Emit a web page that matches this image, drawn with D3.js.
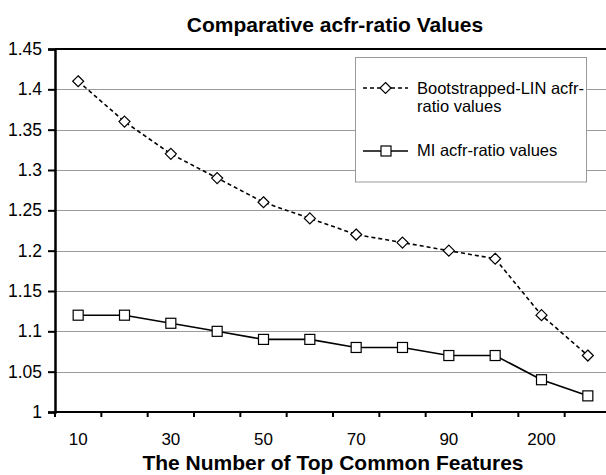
<!DOCTYPE html>
<html>
<head>
<meta charset="utf-8">
<script src="https://cdn.jsdelivr.net/npm/d3@7"></script>
<style>
  body { margin: 0; background: #fff; }
  svg { display: block; font-family: "Liberation Sans", Arial, sans-serif; }
</style>
</head>
<body>
<svg id="chart" width="606" height="475"></svg>
<script>
const categories = ["10", "20", "30", "40", "50", "60", "70", "80", "90", "100", "200", "300"];
const bootValues = [1.41, 1.36, 1.32, 1.29, 1.26, 1.24, 1.22, 1.21, 1.20, 1.19, 1.12, 1.07];
const miValues = [1.12, 1.12, 1.11, 1.10, 1.09, 1.09, 1.08, 1.08, 1.07, 1.07, 1.04, 1.02];
const yTicks = [1, 1.05, 1.1, 1.15, 1.2, 1.25, 1.3, 1.35, 1.4, 1.45];
const xLabels = ["10", "30", "50", "70", "90", "200"];

const svg = d3.select("#chart");
const M = { left: 55, right: 611, top: 49, bottom: 412 };

const x = d3.scaleBand().domain(categories).range([M.left, M.right]);
const xc = c => x(c) + x.bandwidth() / 2;
const y = d3.scaleLinear().domain([1, 1.45]).range([M.bottom, M.top]);

// gridlines
svg.append("g")
  .selectAll("line")
  .data(yTicks.slice(1, -1))
  .join("line")
  .attr("x1", M.left).attr("x2", 606)
  .attr("y1", d => Math.round(y(d)) + 0.5).attr("y2", d => Math.round(y(d)) + 0.5)
  .attr("stroke", "#9a9a9a").attr("stroke-width", 1);

// top border
svg.append("line")
  .attr("x1", M.left).attr("x2", 606).attr("y1", M.top).attr("y2", M.top)
  .attr("stroke", "#000").attr("stroke-width", 2);

// y axis
const yAxis = svg.append("g")
  .attr("transform", `translate(${M.left},0)`)
  .call(d3.axisLeft(y).tickValues(yTicks).tickFormat(d3.format("")).tickSize(7).tickPadding(6));
yAxis.select(".domain").attr("stroke-width", 2.5);
yAxis.selectAll(".tick line").attr("stroke-width", 2);
yAxis.selectAll("text").attr("font-size", 17.5).attr("fill", "#000");

// x axis
const xAxis = svg.append("g")
  .attr("transform", `translate(0,${M.bottom})`)
  .call(d3.axisBottom(x).tickSize(0).tickPadding(0).tickFormat(d => xLabels.includes(d) ? d : ""));
xAxis.select(".domain").attr("stroke-width", 2).attr("d", `M${M.left},0H606`);
xAxis.selectAll("text").attr("font-size", 17).attr("fill", "#000").attr("dy", null).attr("y", 33);
svg.append("g")
  .selectAll("line")
  .data(categories)
  .join("line")
  .attr("x1", d => x(d)).attr("x2", d => x(d))
  .attr("y1", M.bottom).attr("y2", M.bottom + 5)
  .attr("stroke", "#000").attr("stroke-width", 2);

// lines
const line = d3.line().x((d, i) => xc(categories[i])).y(d => y(d));
svg.append("path").datum(bootValues)
  .attr("d", line).attr("fill", "none").attr("stroke", "#000")
  .attr("stroke-width", 1.6).attr("stroke-dasharray", "4,3");
svg.append("path").datum(miValues)
  .attr("d", line).attr("fill", "none").attr("stroke", "#000").attr("stroke-width", 1.6);

const diamond = (cx, cy) => `M${cx},${cy - 5.5}L${cx + 5.5},${cy}L${cx},${cy + 5.5}L${cx - 5.5},${cy}Z`;
svg.append("g").selectAll("path")
  .data(bootValues)
  .join("path")
  .attr("d", (d, i) => diamond(xc(categories[i]), y(d)))
  .attr("fill", "#fff").attr("stroke", "#000").attr("stroke-width", 1.2);
svg.append("g").selectAll("rect")
  .data(miValues)
  .join("rect")
  .attr("x", (d, i) => xc(categories[i]) - 5).attr("y", d => y(d) - 5)
  .attr("width", 10).attr("height", 10)
  .attr("fill", "#fff").attr("stroke", "#000").attr("stroke-width", 1.2);

// legend
const lg = svg.append("g");
lg.append("rect").attr("x", 355.5).attr("y", 57.5).attr("width", 231).attr("height", 124.5)
  .attr("fill", "#fff").attr("stroke", "#999").attr("stroke-width", 1);
lg.append("line").attr("x1", 363).attr("x2", 408).attr("y1", 88).attr("y2", 88)
  .attr("stroke", "#000").attr("stroke-width", 1.6).attr("stroke-dasharray", "4,3");
lg.append("path").attr("d", diamond(385.5, 88)).attr("fill", "#fff").attr("stroke", "#000").attr("stroke-width", 1.2);
lg.append("line").attr("x1", 363).attr("x2", 408).attr("y1", 151).attr("y2", 151)
  .attr("stroke", "#000").attr("stroke-width", 1.6);
lg.append("rect").attr("x", 381).attr("y", 146).attr("width", 10).attr("height", 10)
  .attr("fill", "#fff").attr("stroke", "#000").attr("stroke-width", 1.2);
lg.append("text").attr("x", 417).attr("y", 93.5).attr("font-size", 16.5).text("Bootstrapped-LIN acfr-");
lg.append("text").attr("x", 417).attr("y", 112).attr("font-size", 16.5).text("ratio values");
lg.append("text").attr("x", 417).attr("y", 156).attr("font-size", 16.5).text("MI acfr-ratio values");

// titles
svg.append("text").attr("x", 335).attr("y", 32).attr("text-anchor", "middle")
  .attr("font-size", 21).attr("font-weight", "bold").text("Comparative acfr-ratio Values");
svg.append("text").attr("x", 333).attr("y", 470).attr("text-anchor", "middle")
  .attr("font-size", 21).attr("font-weight", "bold").text("The Number of Top Common Features");
</script>
</body>
</html>
